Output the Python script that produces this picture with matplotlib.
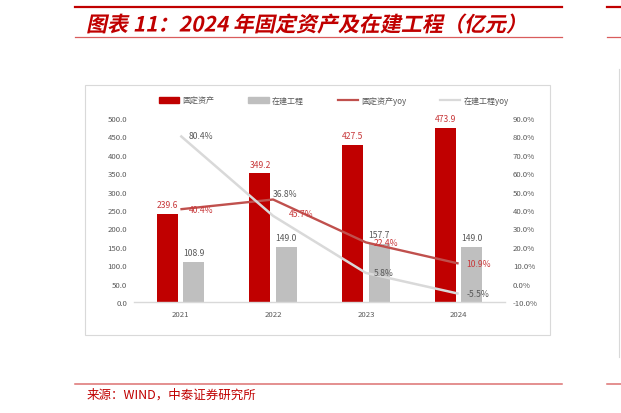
import numpy as np
import matplotlib
matplotlib.use('Agg')
import matplotlib.pyplot as plt
from matplotlib.lines import Line2D
from matplotlib.patches import Rectangle, PathPatch, Patch
from matplotlib.textpath import TextPath
from matplotlib.font_manager import FontProperties
from matplotlib.transforms import Affine2D

plt.rcParams['font.family'] = ['Noto Sans CJK SC', 'DejaVu Sans']

years = ['2021', '2022', '2023', '2024']
fixed_assets = [239.6, 349.2, 427.5, 473.9]
cip = [108.9, 149.0, 157.7, 149.0]
fixed_yoy = [40.4, 45.7, 22.4, 10.9]
cip_yoy = [80.4, 36.8, 5.8, -5.5]

title = '图表 11：2024 年固定资产及在建工程（亿元）'
source = '来源：WIND，中泰证券研究所'

RED = '#C00000'
GRAY = '#BFBFBF'
RED_LINE = '#C0504D'
GRAY_LINE = '#D9D9D9'
TXT = '#595959'
LBL_RED = '#C8393B'

W, H = 621, 414
fig = plt.figure(figsize=(W / 100, H / 100), dpi=100)


def fx(px):
    return px / W


def fy(py):
    return 1 - py / H


# page decorations
for x0, x1 in [(75, 562), (607, 621)]:
    fig.add_artist(Line2D([fx(x0), fx(x1)], [fy(8), fy(8)], color=RED, lw=1.6))
    fig.add_artist(Line2D([fx(x0), fx(x1)], [fy(38), fy(38)], color='#D95C5C', lw=0.9))
    fig.add_artist(Line2D([fx(x0), fx(x1)], [fy(384.5), fy(384.5)], color='#DD7272', lw=1.1))

fp = FontProperties(family='Noto Sans CJK SC', weight='bold')
tp = TextPath((0, 0), title, size=21, prop=fp)
fig.add_artist(PathPatch(tp, transform=Affine2D().skew_deg(12, 0).translate(86, H - 32.5),
                         color=RED, lw=0))

fig.text(fx(87), fy(395.5), source, color=RED, fontsize=9, va='center', ha='left')

fig.add_artist(Rectangle((fx(85), fy(336)), (550 - 85) / W, (336 - 86) / H,
                         transform=fig.transFigure, fill=False, ec='#D9D9D9', lw=0.8))
fig.add_artist(Line2D([fx(618.5), fx(618.5)], [fy(70), fy(358)], color='#D9D9D9', lw=0.8))

# chart
ax = fig.add_axes([fx(134), fy(303), (505 - 134) / W, (303 - 119) / H])
x = np.arange(len(years))
bw = 0.226
off = 0.142
b1 = ax.bar(x - off, fixed_assets, bw, color=RED, zorder=2)
b2 = ax.bar(x + off, cip, bw, color=GRAY, zorder=2)
ax.bar_label(b1, labels=[f'{v:.1f}' for v in fixed_assets], padding=3.5, fontsize=6.2, color=LBL_RED)
ax.bar_label(b2, labels=[f'{v:.1f}' for v in cip], padding=3.5, fontsize=6.2, color=TXT)

ax.set_xlim(-0.5, 3.5)
ax.set_ylim(0, 500)
ax.set_xticks(x)
ax.set_xticklabels(years)
yt = np.arange(0, 501, 50)
ax.set_yticks(yt)
ax.set_yticklabels([f'{v:.1f}' for v in yt])
ax.tick_params(axis='y', length=0, labelsize=5.6, colors=TXT, pad=5)
ax.tick_params(axis='x', length=0, labelsize=5.6, colors=TXT, pad=6)
for s in ['top', 'left', 'right']:
    ax.spines[s].set_visible(False)
ax.spines['bottom'].set_color('#D9D9D9')
ax.spines['bottom'].set_linewidth(1.0)

ax2 = ax.twinx()
ax2.set_ylim(-10, 90)
yt2 = np.arange(-10, 91, 10)
ax2.set_yticks(yt2)
ax2.set_yticklabels([f'{v:.1f}%' for v in yt2])
ax2.tick_params(axis='y', length=0, labelsize=5.6, colors=TXT, pad=5.8)
for s in ax2.spines.values():
    s.set_visible(False)

ax2.plot(x, fixed_yoy, color=RED_LINE, lw=1.7, solid_capstyle='butt')
ax2.plot(x, cip_yoy, color=GRAY_LINE, lw=1.8, solid_capstyle='butt')

red_off = [(5.8, 0), (11.5, -10), (5.8, 0), (5.8, 0)]
gray_off = [(5.8, 0), (0, 16), (5.8, 0), (5.8, 0)]
for i in range(len(years)):
    ax2.annotate(f'{fixed_yoy[i]:.1f}%', (x[i], fixed_yoy[i]), xytext=red_off[i],
                 textcoords='offset points', ha='left', va='center', fontsize=6.2, color=LBL_RED)
    ax2.annotate(f'{cip_yoy[i]:.1f}%', (x[i], cip_yoy[i]), xytext=gray_off[i],
                 textcoords='offset points', ha='left', va='center', fontsize=6.2, color=TXT)

handles = [Patch(color=RED), Patch(color=GRAY),
           Line2D([], [], color=RED_LINE, lw=1.6), Line2D([], [], color=GRAY_LINE, lw=1.6)]
labels = ['固定资产', '在建工程', '固定资产yoy', '在建工程yoy']
fig.legend(handles, labels, loc='center', bbox_to_anchor=(fx(334), fy(101)), ncol=4,
           frameon=False, fontsize=5.8, labelcolor=TXT, handlelength=2.5, handleheight=0.7,
           handletextpad=0.4, columnspacing=4.2)

fig.savefig('out.png', dpi=100)
